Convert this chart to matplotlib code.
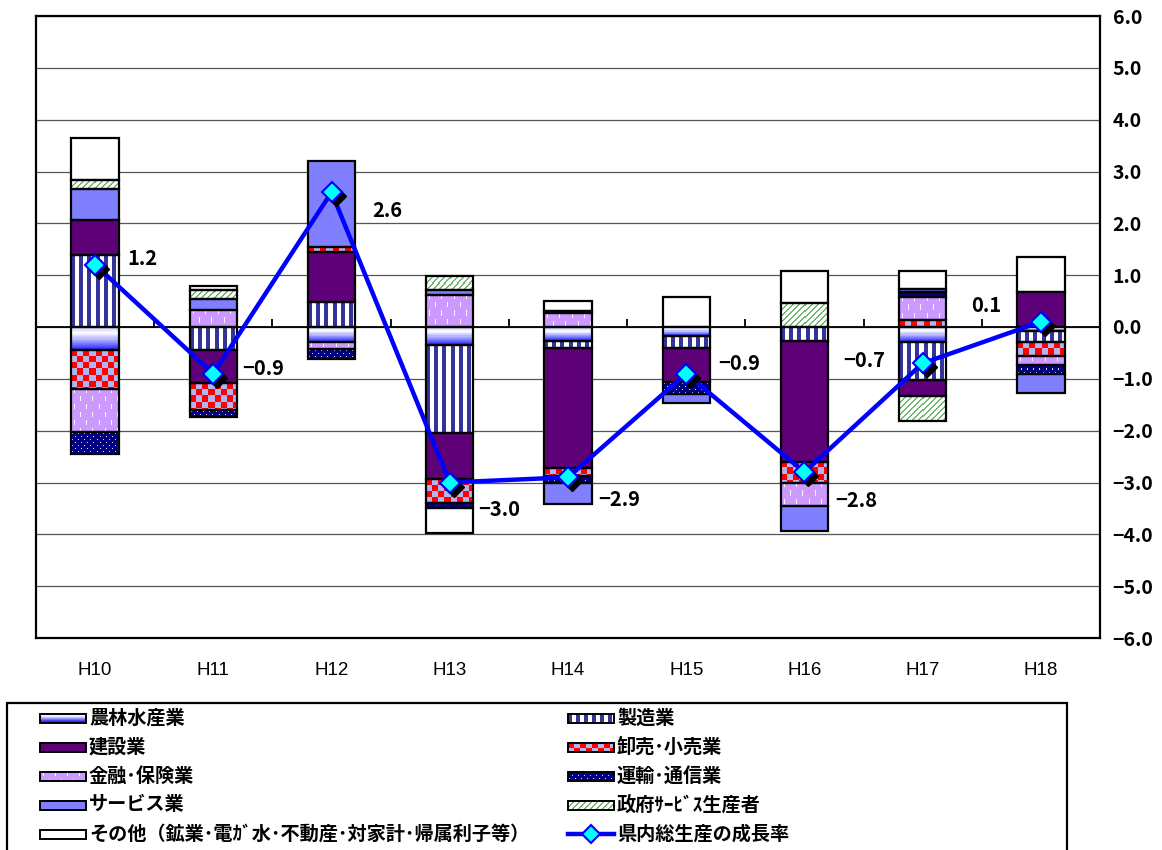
import numpy as np
import matplotlib
matplotlib.use('Agg')
import matplotlib.pyplot as plt
from matplotlib.patches import Rectangle
from matplotlib import transforms as mtransforms
from matplotlib.colors import to_rgb

plt.rcParams['font.family'] = ['Noto Sans CJK JP', 'DejaVu Sans']

# ---------------- data ----------------
years = ['H10', 'H11', 'H12', 'H13', 'H14', 'H15', 'H16', 'H17', 'H18']
series_labels = ['農林水産業', '製造業', '建設業', '卸売･小売業', '金融･保険業',
                 '運輸･通信業', 'サービス業', '政府ｻｰﾋﾞｽ生産者',
                 'その他（鉱業･電ｶﾞ水･不動産･対家計･帰属利子等）']
line_label = '県内総生産の成長率'

agri      = [-0.45,  0.00, -0.29, -0.35, -0.27, -0.18,  0.00, -0.29, -0.07]
manuf     = [ 1.38, -0.45,  0.48, -1.69, -0.13, -0.22, -0.27, -0.74, -0.22]
constr    = [ 0.68, -0.64,  0.97, -0.90, -2.32, -0.66, -2.34, -0.31,  0.68]
trade     = [-0.74, -0.51,  0.10, -0.46, -0.15,  0.00, -0.39,  0.13, -0.26]
finance   = [-0.84,  0.33, -0.13,  0.62,  0.27,  0.00, -0.45,  0.45, -0.18]
transport = [-0.42, -0.13, -0.19, -0.10, -0.14, -0.23,  0.00,  0.10, -0.18]
service   = [ 0.61,  0.21,  1.65,  0.10, -0.40, -0.18, -0.48,  0.06, -0.36]
govt      = [ 0.17,  0.17,  0.00,  0.26,  0.04,  0.00,  0.46, -0.48,  0.00]
other     = [ 0.81,  0.08,  0.00, -0.48,  0.19,  0.58,  0.63,  0.35,  0.68]

growth = [1.2, -0.9, 2.6, -3.0, -2.9, -0.9, -2.8, -0.7, 0.1]

yticks = [-6, -5, -4, -3, -2, -1, 0, 1, 2, 3, 4, 5, 6]

# label offsets (pixels) and alignment for the growth-rate labels
label_offsets = [(32, 6, 'left'), (29, 5, 'left'), (41, -18, 'left'), (28, -27, 'left'),
                 (30, -22, 'left'), (32, 10, 'left'), (31, -28, 'left'),
                 (-37, 3, 'right'), (-40, 16, 'right')]

# ---------------- patterns ----------------
def _grid(w, h):
    yy, xx = np.mgrid[0:h, 0:w]
    return xx, yy

def pat_gradient(w, h):
    t = np.linspace(0, 1, h)
    stops_t = [0.0, 0.3, 1.0]
    cols = [(0.78, 0.78, 0.98), (1.0, 1.0, 1.0), (0.15, 0.15, 1.0)]
    img = np.zeros((h, w, 3))
    for c in range(3):
        img[:, :, c] = np.interp(t, stops_t, [cc[c] for cc in cols])[:, None]
    return img

def pat_stripes(w, h):
    xx, yy = _grid(w, h)
    img = np.ones((h, w, 3))
    img[(xx % 8) < 4] = to_rgb('#333399')
    return img

def pat_solid(color):
    def f(w, h):
        img = np.zeros((h, w, 3))
        img[:] = to_rgb(color)
        return img
    return f

def pat_checker(w, h):
    xx, yy = _grid(w, h)
    img = np.zeros((h, w, 3))
    img[:] = to_rgb('#B4B4F0')
    img[((xx // 6) + (yy // 6)) % 2 == 0] = to_rgb('#FF0000')
    return img

def pat_dash(w, h):
    xx, yy = _grid(w, h)
    img = np.zeros((h, w, 3))
    img[:] = to_rgb('#CC99FF')
    m = (((xx % 12) == 3) & ((yy % 16) < 5)) | (((xx % 12) == 9) & (((yy + 8) % 16) < 5))
    img[m] = (1.0, 0.95, 1.0)
    return img

def pat_dots(w, h):
    xx, yy = _grid(w, h)
    img = np.zeros((h, w, 3))
    img[:] = to_rgb('#000080')
    m = (((xx % 6) == 1) & ((yy % 6) == 1)) | (((xx % 6) == 4) & ((yy % 6) == 4))
    img[m] = (0.85, 0.85, 1.0)
    return img

def pat_diag(w, h):
    xx, yy = _grid(w, h)
    img = np.ones((h, w, 3))
    img[((xx + yy) % 6) < 2] = (0.45, 0.72, 0.45)
    return img

patterns = [pat_gradient, pat_stripes, pat_solid('#5E0078'), pat_checker, pat_dash,
            pat_dots, pat_solid('#8080FF'), pat_diag, pat_solid('#FFFFFF')]

# ---------------- figure ----------------
W, H, DPI = 1162, 850, 100
fig = plt.figure(figsize=(W / DPI, H / DPI), dpi=DPI)
fig.patch.set_facecolor('white')
ax = fig.add_axes([36 / W, 1 - 638 / H, (1100 - 36) / W, (638 - 16) / H])

n = len(years)
x = np.arange(n)
ax.set_xlim(-0.5, n - 0.5)
ax.set_ylim(-6, 6)

vals = np.array([agri, manuf, constr, trade, finance, transport, service, govt, other], dtype=float)
pos_base = np.zeros(n)
neg_base = np.zeros(n)
bar_w = 0.4

for k, v in enumerate(vals):
    bottoms = np.where(v >= 0, pos_base, neg_base)
    idx = np.nonzero(v)[0]
    bars = ax.bar(x[idx], v[idx], bottom=bottoms[idx], width=bar_w,
                  facecolor='none', edgecolor='black', linewidth=1.6, zorder=2)
    for rect in bars:
        x0 = rect.get_x(); x1 = x0 + rect.get_width()
        ya = rect.get_y(); yb = ya + rect.get_height()
        y0, y1 = min(ya, yb), max(ya, yb)
        (px0, py0), (px1, py1) = ax.transData.transform([(x0, y0), (x1, y1)])
        wpx = max(1, int(round(px1 - px0)))
        hpx = max(1, int(round(py1 - py0)))
        ax.imshow(patterns[k](wpx, hpx), extent=(x0, x1, y0, y1), origin='upper',
                  aspect='auto', interpolation='nearest', zorder=1.9)
    pos_base += np.clip(v, 0, None)
    neg_base += np.clip(v, None, 0)

ax.set_xlim(-0.5, n - 0.5)
ax.set_ylim(-6, 6)

# grid, zero line, category boundary ticks
ax.set_yticks(yticks)
ax.grid(axis='y', color='#555555', linewidth=0.9, zorder=0.5)
ax.set_axisbelow(True)
ax.axhline(0, color='black', linewidth=1.3, zorder=3)
bounds = np.arange(0.5, n - 0.5, 1.0)
ax.plot(bounds, np.zeros_like(bounds), ls='none', marker=2, ms=6, mew=1.3,
        color='black', zorder=3)

# growth line with shadowed markers
ax.plot(x, growth, color='#0000FF', linewidth=3.2, zorder=5)
shadow = mtransforms.offset_copy(ax.transData, fig=fig, x=4, y=-4, units='dots')
ax.plot(x, growth, ls='none', marker='D', ms=10, color='black', transform=shadow, zorder=6)
ax.plot(x, growth, ls='none', marker='D', ms=10, mfc='#00FFFF', mec='#0000FF',
        mew=1.5, zorder=7)

def fmt(v):
    s = f"{abs(v):.1f}"
    return ('\u2212' + s) if v < 0 else s

for i, g in enumerate(growth):
    dx, dy, ha = label_offsets[i]
    ax.annotate(fmt(g), xy=(x[i], g), xytext=(dx, dy), textcoords='offset pixels',
                ha=ha, va='center', fontsize=14.5, fontweight='bold', zorder=8)

# axes styling
ax.yaxis.tick_right()
ax.set_yticklabels([fmt(v) for v in yticks], fontsize=14, fontweight='bold')
ax.tick_params(axis='y', length=0, pad=9)
ax.set_xticks(x)
ax.set_xticklabels(years, fontsize=13.5, family=['Liberation Sans', 'DejaVu Sans'])
ax.tick_params(axis='x', length=0, pad=17)
for s in ax.spines.values():
    s.set_linewidth(1.6)
    s.set_color('black')

# ---------------- legend (drawn in pixel coordinates) ----------------
lax = fig.add_axes([0, 0, 1, 1])
lax.set_xlim(0, W)
lax.set_ylim(H, 0)
lax.axis('off')
lax.patch.set_alpha(0)
lax.add_patch(Rectangle((7, 703), 1060, 170, facecolor='white', edgecolor='black',
                        linewidth=1.6, zorder=1))

row_y = [718, 747, 776, 805, 834]
col_x = [40, 568]
sw_w, sw_h = 46, 9
for k in range(len(series_labels)):
    col = k % 2 if k < 8 else 0
    row = k // 2
    sx, sy = col_x[col], row_y[row]
    lax.imshow(patterns[k](sw_w, sw_h), extent=(sx, sx + sw_w, sy + sw_h / 2, sy - sw_h / 2),
               origin='upper', aspect='auto', interpolation='nearest', zorder=2)
    lax.add_patch(Rectangle((sx, sy - sw_h / 2), sw_w, sw_h, facecolor='none',
                            edgecolor='black', linewidth=1.4, zorder=3))
    lax.text(sx + sw_w + 3, sy, series_labels[k], fontsize=13.8, fontweight='bold',
             va='center', ha='left', zorder=4)

# line legend entry
lx, ly = col_x[1], row_y[4]
lax.plot([lx, lx + sw_w], [ly, ly], color='#0000FF', linewidth=3.2, zorder=3)
lax.plot([lx + sw_w / 2], [ly], ls='none', marker='D', ms=9, mfc='#00FFFF',
         mec='#0000FF', mew=1.5, zorder=4)
lax.text(lx + sw_w + 3, ly, line_label, fontsize=13.8, fontweight='bold',
         va='center', ha='left', zorder=4)
lax.set_xlim(0, W)
lax.set_ylim(H, 0)

fig.savefig('out.png', dpi=DPI)
